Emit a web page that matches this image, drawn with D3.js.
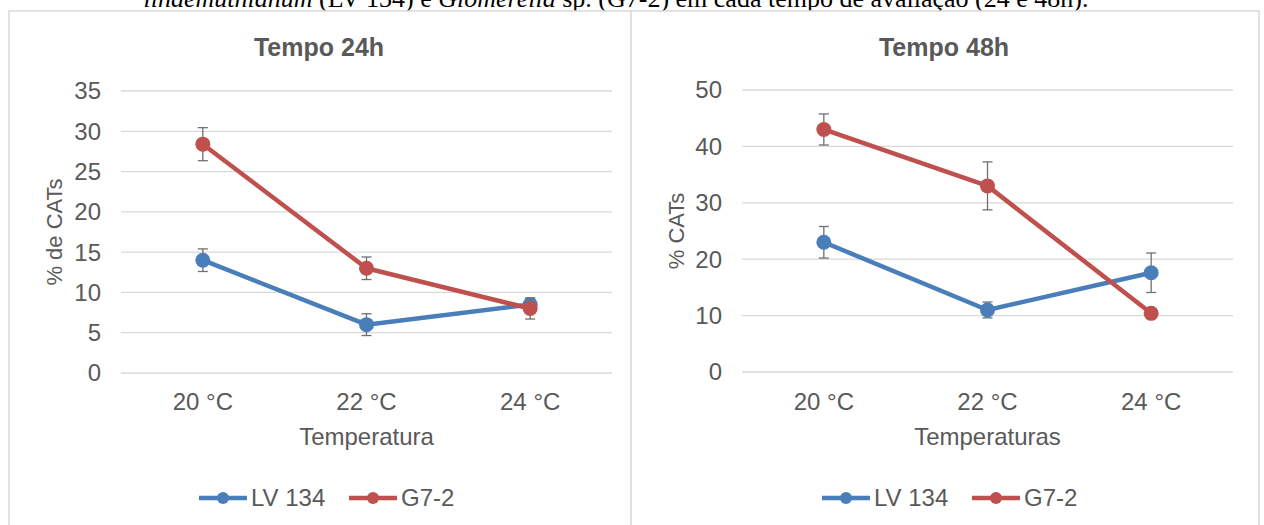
<!DOCTYPE html>
<html>
<head>
<meta charset="utf-8">
<script src="https://cdn.jsdelivr.net/npm/d3@7"></script>
<style>
  body { margin: 0; background: #fff; }
  text { font-family: "Liberation Sans", Arial, sans-serif; fill: #595959; }
  .caption { font-family: "Liberation Serif", "Times New Roman", serif; fill: #000; }
</style>
</head>
<body>
<div class="boundary"></div>
<script>
// data
var categories = ["20 °C", "22 °C", "24 °C"];
var seriesNames = ["LV 134", "G7-2"];

var lv134_24h = [14, 6, 8.5];
var lv134_24h_err = [1.4, 1.35, 0.8];
var g72_24h = [28.4, 13, 8];
var g72_24h_err = [2.05, 1.4, 1.3];

var lv134_48h = [23, 11, 17.6];
var lv134_48h_err = [2.8, 1.4, 3.5];
var g72_48h = [43, 33, 10.4];
var g72_48h_err = [2.75, 4.25, 0.6];

var yTicks24 = [0, 5, 10, 15, 20, 25, 30, 35];
var yTicks48 = [0, 10, 20, 30, 40, 50];

var colors = ["#4a7ebb", "#c0504d"];

var width = 1264, height = 525;
var svg = d3.select(".boundary").append("svg")
  .attr("width", width).attr("height", height);

// caption cut off at the top of the page
var cap = svg.append("text").attr("class", "caption")
  .attr("x", 616).attr("y", 7).attr("text-anchor", "middle")
  .style("font-size", "26px");
cap.append("tspan").style("font-style", "italic").text("lindemuthianum");
cap.append("tspan").text(" (LV 134) e ");
cap.append("tspan").style("font-style", "italic").text("Glomerella");
cap.append("tspan").text(" sp. (G7-2) em cada tempo de avaliação (24 e 48h).");

function panel(opt) {
  var g = svg.append("g");
  g.append("rect")
    .attr("x", opt.left).attr("y", 11)
    .attr("width", opt.right - opt.left).attr("height", 530)
    .attr("fill", "#fff").attr("stroke", "#d9d9d9").attr("stroke-width", 1.5);

  var x = d3.scaleBand().domain(categories).range([opt.plotL, opt.plotR]);
  var y = d3.scaleLinear().domain([0, d3.max(opt.ticks)]).range([opt.bottom, opt.top]);

  // gridlines
  g.append("g").selectAll("line").data(opt.ticks).enter().append("line")
    .attr("x1", opt.plotL).attr("x2", opt.plotR)
    .attr("y1", function(d){ return y(d); }).attr("y2", function(d){ return y(d); })
    .attr("stroke", "#d9d9d9").attr("stroke-width", 1.3);

  // y tick labels
  g.append("g").selectAll("text").data(opt.ticks).enter().append("text")
    .attr("x", opt.plotL - 20).attr("y", function(d){ return y(d); })
    .attr("dy", "0.35em").attr("text-anchor", "end")
    .style("font-size", "24px").text(function(d){ return d; });

  // x tick labels
  g.append("g").selectAll("text").data(categories).enter().append("text")
    .attr("x", function(d){ return x(d) + x.bandwidth() / 2; })
    .attr("y", 410).attr("text-anchor", "middle")
    .style("font-size", "24px").text(function(d){ return d; });

  g.append("text").attr("x", (opt.left + opt.right) / 2 - 1).attr("y", 56)
    .attr("text-anchor", "middle").style("font-size", "25px").style("font-weight", "bold")
    .text(opt.title);
  g.append("text").attr("x", (opt.plotL + opt.plotR) / 2).attr("y", 445)
    .attr("text-anchor", "middle").style("font-size", "24px").text(opt.xTitle);
  g.append("text")
    .attr("transform", "translate(" + opt.yTitleX + "," + (opt.top + opt.bottom) / 2 + ") rotate(-90)")
    .attr("text-anchor", "middle").style("font-size", "22px").text(opt.yTitle);

  var line = d3.line()
    .x(function(d, i){ return x(categories[i]) + x.bandwidth() / 2; })
    .y(function(d){ return y(d); });

  opt.series.forEach(function(s, k) {
    var sg = g.append("g");
    var pts = s.values.map(function(v, i){ return {cat: categories[i], v: v, e: s.err[i]}; });
    var cx = function(d){ return x(d.cat) + x.bandwidth() / 2; };
    sg.append("path").datum(s.values).attr("d", line)
      .attr("fill", "none").attr("stroke", colors[k]).attr("stroke-width", 4.5)
      .attr("stroke-linejoin", "round");
    var eb = sg.selectAll(".eb").data(pts).enter().append("g");
    eb.append("line").attr("x1", cx).attr("x2", cx)
      .attr("y1", function(d){ return y(d.v + d.e); }).attr("y2", function(d){ return y(d.v - d.e); })
      .attr("stroke", "#707070").attr("stroke-width", 1.3);
    [1, -1].forEach(function(sgn) {
      eb.append("line")
        .attr("x1", function(d){ return cx(d) - 5; }).attr("x2", function(d){ return cx(d) + 5; })
        .attr("y1", function(d){ return y(d.v + sgn * d.e); }).attr("y2", function(d){ return y(d.v + sgn * d.e); })
        .attr("stroke", "#707070").attr("stroke-width", 1.3);
    });
    sg.selectAll("circle").data(pts).enter().append("circle")
      .attr("cx", cx).attr("cy", function(d){ return y(d.v); })
      .attr("r", 7.5).attr("fill", colors[k]);
  });

  // legend
  var lg = g.append("g").attr("transform", "translate(" + opt.legendX + ",498)");
  var offs = [0, 150];
  seriesNames.forEach(function(n, k) {
    var it = lg.append("g").attr("transform", "translate(" + offs[k] + ",0)");
    it.append("line").attr("x1", 0).attr("x2", 48).attr("stroke", colors[k]).attr("stroke-width", 4.5);
    it.append("circle").attr("cx", 24).attr("r", 6).attr("fill", colors[k]);
    it.append("text").attr("x", 52).attr("dy", "0.35em").style("font-size", "24px").text(n);
  });
}

panel({
  left: 9, right: 631, plotL: 121, plotR: 612, top: 91, bottom: 373,
  ticks: yTicks24, title: "Tempo 24h", xTitle: "Temperatura", yTitle: "% de CATs",
  yTitleX: 62, legendX: 199,
  series: [{values: lv134_24h, err: lv134_24h_err}, {values: g72_24h, err: g72_24h_err}]
});
panel({
  left: 631, right: 1259, plotL: 742, plotR: 1233, top: 90, bottom: 372,
  ticks: yTicks48, title: "Tempo 48h", xTitle: "Temperaturas", yTitle: "% CATs",
  yTitleX: 684, legendX: 822,
  series: [{values: lv134_48h, err: lv134_48h_err}, {values: g72_48h, err: g72_48h_err}]
});
</script>
</body>
</html>
